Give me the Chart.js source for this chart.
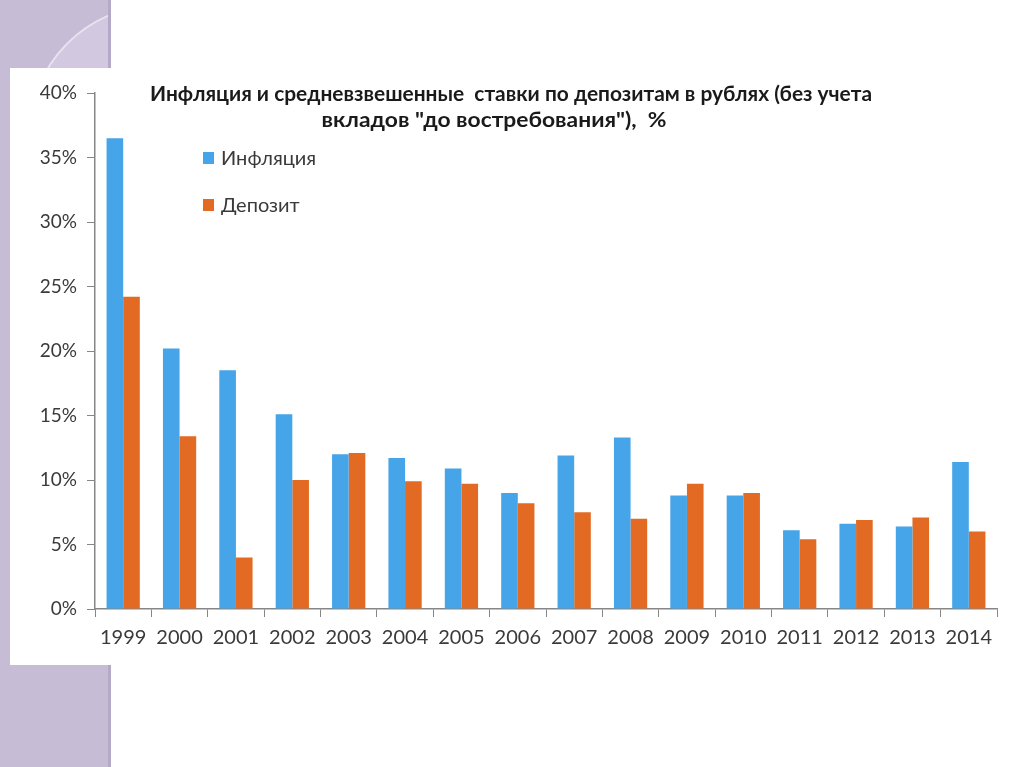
<!DOCTYPE html>
<html>
<head>
<meta charset="utf-8">
<script src="https://cdn.jsdelivr.net/npm/chart.js@4.4.1/dist/chart.umd.min.js"></script>
<style>
  html, body { margin: 0; padding: 0; background: #ffffff; overflow: hidden; }
  body { width: 1024px; height: 767px; position: relative; }
  #stripe { position: absolute; left: 0; top: 0; width: 108px; height: 767px; background: #c6bcd6; border-right: 3px solid #b4a9c6; overflow: hidden; }
  #arc { position: absolute; left: 28px; top: 4px; width: 260px; height: 260px; border-radius: 50%; background: #d2c9e0; border: 2px solid #e8e3ef; }
  #box { position: absolute; left: 10px; top: 68px; width: 1014px; height: 597px; background: #ffffff; }
</style>
</head>
<body>
<div id="stripe"><div id="arc"></div></div>
<div id="box"><canvas id="ratesChart" width="1014" height="597"></canvas></div>
<script>
// years and values, %
const years = ['1999', '2000', '2001', '2002', '2003', '2004', '2005', '2006',
               '2007', '2008', '2009', '2010', '2011', '2012', '2013', '2014'];
const inflation = [36.5, 20.2, 18.5, 15.1, 12.0, 11.7, 10.9, 9.0, 11.9, 13.3, 8.8, 8.8, 6.1, 6.6, 6.4, 11.4];
const deposit = [24.2, 13.4, 4.0, 10.0, 12.1, 9.9, 9.7, 8.2, 7.5, 7.0, 9.7, 9.0, 5.4, 6.9, 7.1, 6.0];
const titleLines = ['Инфляция и средневзвешенные  ставки по депозитам в рублях (без учета',
                    'вкладов "до востребования"),  %'];

const axisColor = '#868686';
const textColor = '#3a3a3a';

// draw a text line fitted to a given width (title font in the slide is condensed)
function fitText(ctx, text, cx, cy, width) {
    const w = ctx.measureText(text).width;
    ctx.save();
    ctx.translate(cx, cy);
    ctx.scale(width / w, 1);
    ctx.fillText(text, 0, 0);
    ctx.restore();
}

// title and legend drawn inside the plot like in the original slide
const slideDecor = {
    id: 'slideDecor',
    afterDraw(chart) {
        const ctx = chart.ctx;
        ctx.save();
        ctx.fillStyle = '#1a1a1a';
        ctx.font = 'bold 20px Lato';
        ctx.textAlign = 'center';
        ctx.textBaseline = 'middle';
        fitText(ctx, titleLines[0], 501, 27, 722);
        fitText(ctx, titleLines[1], 484, 53, 345);

        ctx.font = '20px Lato';
        ctx.textAlign = 'left';
        chart.data.datasets.forEach((ds, i) => {
            const y = 90 + i * 47;
            ctx.fillStyle = ds.backgroundColor;
            ctx.fillRect(193, y - 6, 11, 12);
            ctx.fillStyle = textColor;
            ctx.fillText(ds.label, 211, y + 1);
        });
        ctx.restore();
    }
};

const ctx = document.getElementById('ratesChart').getContext('2d');
new Chart(ctx, {
    type: 'bar',
    data: {
        labels: years,
        datasets: [{
            label: 'Инфляция',
            data: inflation,
            backgroundColor: '#45a5e8',
            categoryPercentage: 0.59,
            barPercentage: 1.0
        }, {
            label: 'Депозит',
            data: deposit,
            backgroundColor: '#e26a22',
            categoryPercentage: 0.59,
            barPercentage: 1.0
        }]
    },
    options: {
        responsive: false,
        animation: false,
        layout: { padding: { left: 0, right: 27, top: 25, bottom: 0 } },
        plugins: {
            legend: { display: false },
            title: { display: false },
            tooltip: { enabled: false }
        },
        scales: {
            x: {
                grid: { display: true, drawOnChartArea: false, drawTicks: true, tickLength: 8, tickColor: axisColor, offset: true },
                border: { display: true, color: axisColor, width: 1.5 },
                ticks: { color: textColor, font: { family: 'Lato', size: 20 }, padding: 9, maxRotation: 0 },
                afterFit(scale) { scale.height = 56; }
            },
            y: {
                min: 0,
                max: 40,
                grid: { display: true, drawOnChartArea: false, drawTicks: true, tickLength: 8, tickColor: axisColor },
                border: { display: true, color: axisColor, width: 1.5 },
                ticks: {
                    stepSize: 5,
                    color: textColor,
                    font: { family: 'Lato', size: 19 },
                    padding: 10,
                    callback: v => v + '%'
                },
                afterFit(scale) { scale.width = 85; }
            }
        }
    },
    plugins: [slideDecor]
});
</script>
</body>
</html>
